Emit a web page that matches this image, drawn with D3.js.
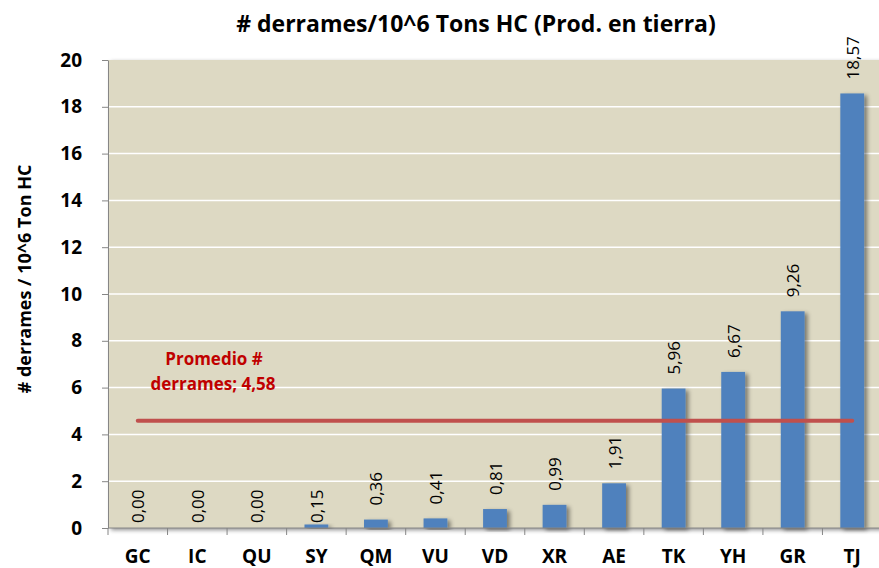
<!DOCTYPE html>
<html>
<head>
<meta charset="utf-8">
<script src="https://cdn.jsdelivr.net/npm/d3@7"></script>
<style>
  body { margin: 0; background: #fff; }
  text { font-family: "Open Sans", "Liberation Sans", sans-serif; }
</style>
</head>
<body>
<div id="chart"></div>
<script>
// Data
const categories = ['GC', 'IC', 'QU', 'SY', 'QM', 'VU', 'VD', 'XR', 'AE', 'TK', 'YH', 'GR', 'TJ'];
const values = [0, 0, 0, 0.15, 0.36, 0.41, 0.81, 0.99, 1.91, 5.96, 6.67, 9.26, 18.57];
const average = 4.58;
const yTicks = [0, 2, 4, 6, 8, 10, 12, 14, 16, 18, 20];

const width = 879, height = 568;
const margin = { top: 60, right: -3, bottom: 40, left: 108 };

const svg = d3.select('#chart')
  .append('svg')
  .attr('width', width)
  .attr('height', height);

const defs = svg.append('defs');
const f = defs.append('filter').attr('id', 'shadow')
  .attr('x', '-20%').attr('y', '-20%').attr('width', '160%').attr('height', '140%');
f.append('feDropShadow').attr('dx', 3).attr('dy', 2).attr('stdDeviation', 2)
  .attr('flood-color', '#000').attr('flood-opacity', 0.45);

const x = d3.scaleBand()
  .domain(categories)
  .range([margin.left, width - margin.right])
  .paddingInner(0.6)
  .paddingOuter(0.3);

const xb = d3.scaleBand()
  .domain(categories)
  .range([margin.left, width - margin.right]);

const y = d3.scaleLinear()
  .domain([0, 20])
  .range([height - margin.bottom, margin.top]);

// plot background
svg.append('rect')
  .attr('x', margin.left)
  .attr('y', margin.top)
  .attr('width', width - margin.right - margin.left)
  .attr('height', y(0) - margin.top)
  .attr('fill', '#DDD9C3')
  .attr('filter', 'url(#shadow)');

// gridlines
svg.append('g')
  .selectAll('line')
  .data(yTicks.filter(d => d > 0 && d < 20))
  .enter()
  .append('line')
  .attr('x1', margin.left)
  .attr('x2', width)
  .attr('y1', d => y(d))
  .attr('y2', d => y(d))
  .attr('stroke', '#fff')
  .attr('stroke-width', 1.5);

// bars
svg.append('g')
  .selectAll('rect')
  .data(values)
  .enter()
  .append('rect')
  .attr('x', (d, i) => x(categories[i]))
  .attr('y', d => y(d))
  .attr('width', x.bandwidth())
  .attr('height', d => y(0) - y(d))
  .attr('fill', '#4F81BD')
  .attr('filter', 'url(#shadow)');

// average line
svg.append('line')
  .attr('x1', xb(categories[0]) + xb.bandwidth() / 2)
  .attr('x2', xb(categories[categories.length - 1]) + xb.bandwidth() / 2)
  .attr('y1', y(average))
  .attr('y2', y(average))
  .attr('stroke', '#C0504D')
  .attr('stroke-width', 4)
  .attr('stroke-linecap', 'round');

// average label
const avgLabel = svg.append('text')
  .attr('text-anchor', 'middle')
  .style('font-size', '17px')
  .style('font-weight', 'bold')
  .style('fill', '#C00000');
avgLabel.append('tspan').attr('x', 214).attr('y', 365).text('Promedio #');
avgLabel.append('tspan').attr('x', 213).attr('y', 390).text('derrames; 4,58');

// value labels (small bars keep the label just above the axis)
svg.append('g')
  .selectAll('text')
  .data(values)
  .enter()
  .append('text')
  .attr('transform', (d, i) => {
    const cx = x(categories[i]) + x.bandwidth() / 2;
    const ty = d < 0.2 ? y(0) - 5 : y(d) - 14;
    return `translate(${cx},${ty}) rotate(-90)`;
  })
  .attr('text-anchor', 'start')
  .attr('dominant-baseline', 'central')
  .style('font-size', '17px')
  .style('fill', '#000')
  .text(d => d.toFixed(2).replace('.', ','));

// x axis
const xAxis = svg.append('g')
  .attr('transform', `translate(0,${y(0)})`);
xAxis.append('line')
  .attr('x1', margin.left).attr('x2', width)
  .attr('stroke', '#868686').attr('stroke-width', 1);
xAxis.selectAll('.tk')
  .data(categories)
  .enter()
  .append('line')
  .attr('x1', d => xb(d)).attr('x2', d => xb(d))
  .attr('y1', 0).attr('y2', 7)
  .attr('stroke', '#868686');
xAxis.selectAll('text')
  .data(categories)
  .enter()
  .append('text')
  .attr('x', d => xb(d) + xb.bandwidth() / 2)
  .attr('y', 35)
  .attr('text-anchor', 'middle')
  .style('font-size', '19px')
  .style('font-weight', 'bold')
  .text(d => d);

// y axis
const yAxis = svg.append('g')
  .attr('transform', `translate(${margin.left},0)`)
  .call(d3.axisLeft(y).tickValues(yTicks).tickSize(6).tickPadding(20).tickSizeOuter(0));
yAxis.select('.domain').attr('stroke', '#868686');
yAxis.selectAll('.tick line').attr('stroke', '#868686');
yAxis.selectAll('.tick text')
  .style('font-size', '19px')
  .style('font-weight', 'bold')
  .style('font-family', '"Open Sans", sans-serif')
  .attr('fill', '#000');

// y axis title
svg.append('text')
  .attr('transform', `translate(31,${(margin.top + y(0)) / 2 - 15}) rotate(-90)`)
  .attr('text-anchor', 'middle')
  .style('font-size', '18px')
  .style('font-weight', 'bold')
  .text('# derrames / 10^6 Ton HC');

// chart title
svg.append('text')
  .attr('x', 476)
  .attr('y', 32)
  .attr('text-anchor', 'middle')
  .style('font-size', '23px')
  .style('font-weight', 'bold')
  .text('# derrames/10^6 Tons HC (Prod. en tierra)');
</script>
</body>
</html>
